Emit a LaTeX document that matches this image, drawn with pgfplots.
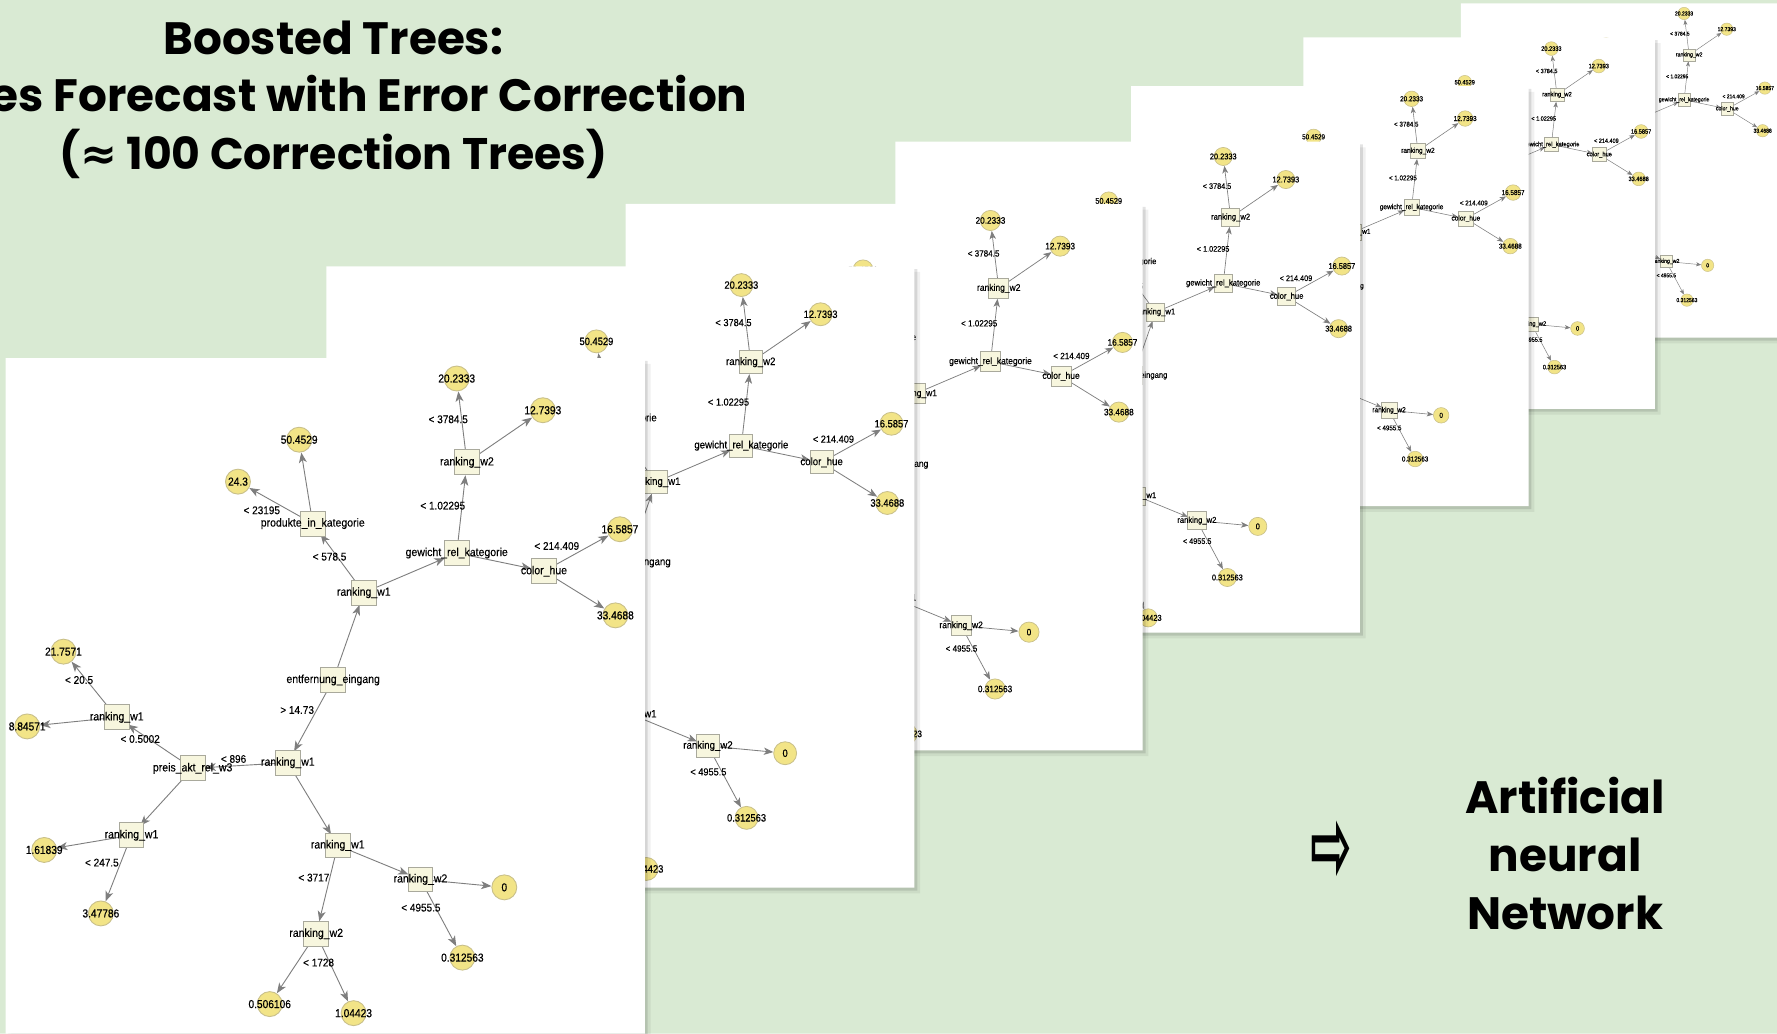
\documentclass[border=0pt]{standalone}
\usepackage{fontspec}
\usepackage{graphicx}
\usepackage{pgfplots}
\pgfplotsset{compat=1.18}
\usepackage{pgfplotstable}
\usetikzlibrary{arrows.meta}
\setmainfont{Poppins}
\newfontfamily\lab[FakeStretch=0.9, FakeBold=0.25]{Liberation Sans}
\newfontfamily\labb[FakeStretch=0.88, FakeBold=0.6]{Liberation Sans}
\newfontfamily\sym{DejaVu Sans}
\definecolor{bg}{HTML}{D9EAD3}
\definecolor{leaf}{HTML}{F2E487}
\definecolor{leafdraw}{HTML}{C9C08A}
\definecolor{boxfill}{HTML}{F7F6DE}
\definecolor{boxdraw}{HTML}{A9A99C}
\definecolor{edgec}{HTML}{7E7E7E}

\pgfdeclarelayer{L1}\pgfdeclarelayer{L2}\pgfdeclarelayer{L3}\pgfdeclarelayer{L4}
\pgfdeclarelayer{L5}\pgfdeclarelayer{L6}\pgfdeclarelayer{L7}
\pgfplotsset{
  layers/panels/.define layer set={axis background,L7,L6,L5,L4,L3,L2,L1,main,axis foreground}{},
}

\pgfplotstableread[col sep=comma]{
x,y
0,0
564,0
564,596
0,596
0,0
}\rect

\pgfplotstableread[col sep=comma]{
x,y,u,v
289,284,27,-77
289,284,-40,73
316,207,-45,-61
316,207,82,-35
271,146,-66,-37
271,146,-12,-74
398,172,9,-80
398,172,77,16
407,92,-9,-74
407,92,67,-46
475,188,67,-37
475,188,63,39
249,357,-84,5
249,357,44,73
165,362,-67,-45
165,362,-54,59
98,317,-47,-58
98,317,-79,8
111,421,-77,13
111,421,-27,69
293,430,73,30
293,430,-19,78
366,460,74,7
366,460,37,69
274,508,-41,62
274,508,33,70
}\edges

\pgfplotstableread[col sep=comma]{
x,y,label
289,284,entfernung\_eingang
316,207,ranking\_w1
249,357,ranking\_w1
271,146,produkte\_in\_kategorie
398,172,gewicht\_rel\_kategorie
407,92,ranking\_w2
475,188,color\_hue
98,317,ranking\_w1
165,362,preis\_akt\_rel\_w3
111,421,ranking\_w1
293,430,ranking\_w1
366,460,ranking\_w2
274,508,ranking\_w2
}\boxes

\pgfplotstableread[col sep=comma]{
x,y,label
398,18,20.2333
474,46,12.7393
259,72,50.4529
205,109,24.3
542,151,16.5857
538,227,33.4688
51,259,21.7571
19,325,8.84571
34,434,1.61839
84,490,3.47786
440,467,0
403,529,0.312563
233,570,0.506106
307,578,1.04423
}\leaves

\pgfplotstableread[col sep=comma]{
x,y,label
390.5,54,< 3784.5
385.7,130.2,< 1.02295
226,134.3,< 23195
285.8,175.2,< 578.5
486.3,165.8,< 214.409
64.8,284,< 20.5
257.2,310.5,> 14.73
118.7,336.1,< 0.5002
201.1,353.7,< 896
84.9,445.2,< 247.5
272,458.4,< 3717
366.4,484.9,< 4955.5
276.1,533.4,< 1728
}\conds

% #1 = x0, #2 = y0, #3 = scale, #4 = layer
\newcommand{\panel}[4]{%
\addplot[on layer=#4, draw=none, fill=black, fill opacity=0.06] table[x expr={#1+#3*\thisrow{x}+5}, y expr={#2+#3*\thisrow{y}+5}]{\rect};
\addplot[on layer=#4, draw=none, fill=black, fill opacity=0.11] table[x expr={#1+#3*\thisrow{x}+2.5}, y expr={#2+#3*\thisrow{y}+2.5}]{\rect};
\addplot[on layer=#4, draw=none, fill=white] table[x expr={#1+#3*\thisrow{x}}, y expr={#2+#3*\thisrow{y}}]{\rect};
\addplot[on layer=#4, edgec, line width=\fpeval{0.8*#3}pt,
  -{Stealth[length=\fpeval{9*#3}pt, width=\fpeval{7*#3}pt, inset=\fpeval{2.5*#3}pt]},
  shorten >=\fpeval{11.5*#3}pt,
  quiver={u=\thisrow{u}*#3, v=\thisrow{v}*#3}]
  table[x expr={#1+#3*\thisrow{x}}, y expr={#2+#3*\thisrow{y}}]{\edges};
\addplot[on layer=#4, only marks, mark=square*, mark size=\fpeval{11*#3}pt,
  mark options={fill=boxfill, draw=boxdraw, line width=\fpeval{0.8*#3}pt},
  nodes near coords, point meta=explicit symbolic,
  nodes near coords style={anchor=center, inner sep=0pt, text=black,
    font=\lab\fontsize{\fpeval{10.3*#3}}{\fpeval{12*#3}}\selectfont}]
  table[x expr={#1+#3*\thisrow{x}}, y expr={#2+#3*\thisrow{y}}, meta=label]{\boxes};
\addplot[on layer=#4, only marks, mark=*, mark size=\fpeval{11*#3}pt,
  mark options={fill=leaf, draw=leafdraw, line width=\fpeval{0.8*#3}pt},
  nodes near coords, point meta=explicit symbolic,
  nodes near coords style={anchor=center, inner sep=0pt, text=black,
    font=\labb\fontsize{\fpeval{10.2*#3}}{\fpeval{12*#3}}\selectfont}]
  table[x expr={#1+#3*\thisrow{x}}, y expr={#2+#3*\thisrow{y}}, meta=label]{\leaves};
\addplot[on layer=#4, draw=none, nodes near coords, point meta=explicit symbolic,
  nodes near coords style={anchor=center, inner sep=0pt, text=black,
    font=\lab\fontsize{\fpeval{9.8*#3}}{\fpeval{12*#3}}\selectfont}]
  table[x expr={#1+#3*\thisrow{x}}, y expr={#2+#3*\thisrow{y}}, meta=label]{\conds};
}

\begin{document}
\begin{tikzpicture}
\begin{axis}[scale only axis, width=1568pt, height=912pt,
  xmin=0, xmax=1568, ymin=0, ymax=912, y dir=reverse,
  hide axis, clip=true, clip mode=individual,
  set layers=panels, mark layer=like plot]
\addplot[on layer=axis background, draw=none, fill=bg] coordinates {(0,0) (1568,0) (1568,912) (0,912) (0,0)};
\panel{1289}{3}{0.495}{L7}
\panel{1150}{33}{0.550}{L6}
\panel{998}{76}{0.622}{L5}
\panel{790}{125}{0.727}{L4}
\panel{552}{180}{0.809}{L3}
\panel{288}{235}{0.920}{L2}
\panel{5}{316}{1}{L1}
\node[anchor=base, font=\fontsize{40}{42}\selectfont\bfseries] at (axis cs:294,48) {Boosted Trees:};
\node[anchor=base, font=\fontsize{40}{42}\selectfont\bfseries] at (axis cs:294,98.5) {Sales Forecast with Error Correction};
\node[anchor=base, font=\fontsize{39}{42}\selectfont\bfseries] at (axis cs:294,149.4) {({\sym≈} 100 Correction Trees)};
\node[anchor=base, font=\fontsize{40}{42}\selectfont\bfseries] at (axis cs:1381,717.7) {Artificial};
\node[anchor=base, font=\fontsize{40}{42}\selectfont\bfseries] at (axis cs:1381,769.2) {neural};
\node[anchor=base, font=\fontsize{40}{42}\selectfont\bfseries] at (axis cs:1381,820.6) {Network};
\node[font=\sym\fontsize{40}{40}\selectfont\bfseries] at (axis cs:1175,751) {\scalebox{1.1}[2.3]{⇨}};
\coordinate (P1) at (axis cs:0,0);
\coordinate (P2) at (axis cs:1568,912);
\end{axis}
\pgfresetboundingbox
\path[use as bounding box] (P1) rectangle (P2);
\end{tikzpicture}
\end{document}
